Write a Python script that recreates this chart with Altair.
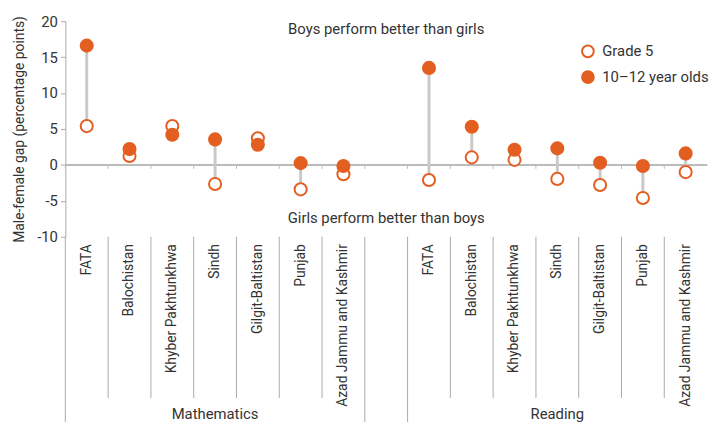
import altair as alt
import pandas as pd

regions = ["FATA", "Balochistan", "Khyber Pakhtunkhwa", "Sindh", "Gilgit-Baltistan", "Punjab", "Azad Jammu and Kashmir"]
subjects = ["Mathematics", "Reading"]
math_grade5 = [5.4, 1.25, 5.4, -2.65, 3.7, -3.4, -1.3]
math_age = [16.6, 2.2, 4.2, 3.55, 2.8, 0.25, -0.15]
read_grade5 = [-2.1, 1.05, 0.7, -1.95, -2.8, -4.6, -1.0]
read_age = [13.5, 5.3, 2.1, 2.3, 0.3, -0.15, 1.6]
series_names = ["Grade 5", "10\u201312 year olds"]
y_ticks = [-10, -5, 0, 5, 10, 15, 20]

ORANGE = "#e35f21"
GRAY = "#c9c9c9"
W, H = 649, 218
FONT = "Roboto"

gap_key = "gap|"
keys = [f"Mathematics|{r}" for r in regions] + [gap_key] + [f"Reading|{r}" for r in regions]

rows = []
for subj, g5, ag in [("Mathematics", math_grade5, math_age), ("Reading", read_grade5, read_age)]:
    for r, a, b in zip(regions, g5, ag):
        rows.append({"key": f"{subj}|{r}", "subject": subj, "region": r, "g5": a, "age": b})
df = pd.DataFrame(rows)

long_rows = []
for row in rows:
    long_rows.append({"key": row["key"], "series": series_names[0], "value": row["g5"]})
    long_rows.append({"key": row["key"], "series": series_names[1], "value": row["age"]})
dlong = pd.DataFrame(long_rows)

long_keys = [keys[0], gap_key, keys[8]]
sep_short = pd.DataFrame({"key": [k for k in keys if k not in long_keys]})
sep_long = pd.DataFrame({"key": long_keys})
all_keys = pd.DataFrame({"key": keys})
groups = pd.DataFrame({"key": ["Mathematics|Sindh", "Reading|Sindh"], "label": subjects})

xscale = alt.Scale(domain=keys, paddingInner=0, paddingOuter=0)
yscale = alt.Scale(domain=[-10, 20], nice=False)

x_axis = alt.Axis(title=None, labelAngle=-90, ticks=False, domain=False, grid=False,
                  labelExpr="split(datum.label, '|')[1]", labelPadding=7,
                  labelFontSize=14, labelFont=FONT, labelColor="#333333")
y_axis = alt.Axis(title="Male-female gap (percentage points)", values=y_ticks,
                  labelExpr="'' + datum.value", grid=False, domainColor="#aaaaaa",
                  tickColor="#aaaaaa", tickSize=5, labelFontSize=15, labelFont=FONT,
                  labelColor="#333333", titleFontSize=14, titleFont=FONT,
                  titleFontWeight="normal", titleColor="#333333", titlePadding=10,
                  labelPadding=3, labelOverlap=False, labelFlush=False)


def X(bp=None):
    if bp is None:
        return alt.X("key:N", scale=xscale, sort=keys, axis=x_axis)
    return alt.X("key:N", scale=xscale, sort=keys, axis=x_axis, bandPosition=bp)


def Y(field):
    return alt.Y(field, scale=yscale, axis=y_axis)


zero = alt.Chart(all_keys).mark_rule(color="#bbbbbb", strokeWidth=1.5).encode(
    y=alt.datum(0, scale=yscale, axis=y_axis), x=alt.value(0), x2=alt.value(W))

zero_ticks = alt.Chart(all_keys).mark_rule(color="#bbbbbb", strokeWidth=1).encode(
    x=X(0), y=alt.datum(0, scale=yscale, axis=y_axis), y2=alt.datum(-0.55))

stems = alt.Chart(df).mark_rule(color=GRAY, strokeWidth=3).encode(
    x=X(), y=Y("g5:Q"), y2="age:Q")

points = alt.Chart(dlong).mark_point(shape="circle", filled=False, size=150, strokeWidth=2,
                                      stroke=ORANGE, opacity=1).encode(
    x=X(), y=Y("value:Q"),
    fill=alt.Fill("series:N", scale=alt.Scale(domain=series_names, range=["white", ORANGE]),
                  sort=series_names,
                  legend=alt.Legend(title=None, orient="none", legendX=521, legendY=23,
                                    symbolType="circle", symbolSize=140,
                                    symbolStrokeColor=ORANGE, symbolStrokeWidth=2,
                                    labelFontSize=15, labelFont=FONT, labelColor="#333333",
                                    rowPadding=5, labelOffset=7)))

sep1 = alt.Chart(sep_short).mark_rule(color="#aaaaaa", strokeWidth=1).encode(
    x=X(0), y=alt.value(H), y2=alt.value(H + 163))
sep2 = alt.Chart(sep_long).mark_rule(color="#aaaaaa", strokeWidth=1).encode(
    x=X(0), y=alt.value(H), y2=alt.value(H + 195))

ann = pd.DataFrame({"t": ["Boys perform better than girls", "Girls perform better than boys"],
                    "v": [18.9, -7.45]})
annot = alt.Chart(ann).mark_text(fontSize=15, font=FONT, color="#333333", baseline="middle").encode(
    x=alt.value(W / 2), y=Y("v:Q"), text="t:N")

glabels = alt.Chart(groups).mark_text(fontSize=15, font=FONT, color="#333333", baseline="middle").encode(
    x=X(), y=alt.value(H + 179), text="label:N")

chart = alt.layer(zero, zero_ticks, stems, points, sep1, sep2, annot, glabels).properties(
    width=W, height=H,
    autosize=alt.AutoSizeParams(type="none"),
    padding={"left": 58, "top": 11, "right": 5, "bottom": 185},
).configure_view(stroke=None)

chart.save("out.html", embed_options={"renderer": "svg", "actions": False})
